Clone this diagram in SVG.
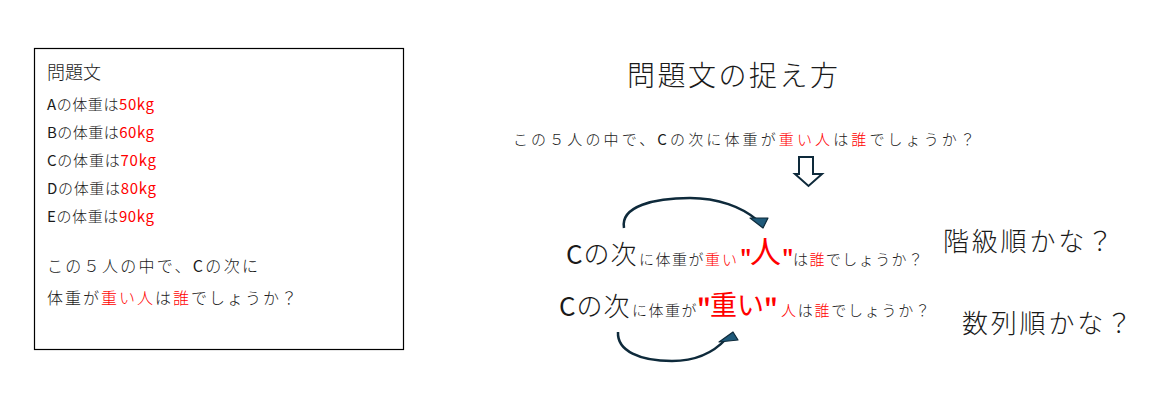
<svg xmlns="http://www.w3.org/2000/svg" width="1152" height="402" viewBox="0 0 1152 402">
<style>
text{font-family:"Noto Sans CJK JP","Noto Sans",sans-serif;font-weight:300;fill:#1a1a1a}
.r{fill:#ff0000}
.n{font-weight:400}
.s15{font-size:15px}
.q{font-weight:bold;fill:#ff0000}
.curve{fill:none;stroke:#0e2a3b;stroke-width:2.5}
.head{fill:#1f5a7a;stroke:#0e2a3b;stroke-width:1.2;stroke-linejoin:round}
</style>
<rect width="1152" height="402" fill="#fff"/>
<g id="problem-box">
<rect x="34.5" y="48.5" width="369" height="301" fill="#fff" stroke="#000" stroke-width="1.2"/>
<text x="47" y="79" font-size="18">問題文</text>
<text x="47" y="110" class="s15" textLength="107" lengthAdjust="spacing"><tspan class="n">A</tspan>の体重は<tspan class="r n">50kg</tspan></text>
<text x="47" y="138" class="s15" textLength="107" lengthAdjust="spacing"><tspan class="n">B</tspan>の体重は<tspan class="r n">60kg</tspan></text>
<text x="47" y="166" class="s15" textLength="109" lengthAdjust="spacing"><tspan class="n">C</tspan>の体重は<tspan class="r n">70kg</tspan></text>
<text x="47" y="194" class="s15" textLength="109" lengthAdjust="spacing"><tspan class="n">D</tspan>の体重は<tspan class="r n">80kg</tspan></text>
<text x="47" y="222" class="s15" textLength="107" lengthAdjust="spacing"><tspan class="n">E</tspan>の体重は<tspan class="r n">90kg</tspan></text>
<text x="47" y="272" font-size="16" textLength="211" lengthAdjust="spacing">この５人の中で、<tspan class="n">C</tspan>の次に</text>
<text x="47" y="304" font-size="16" textLength="250" lengthAdjust="spacing">体重が<tspan class="r">重い人</tspan>は<tspan class="r">誰</tspan>でしょうか？</text>
</g>
<g id="title">
<text x="627" y="86" font-size="28" textLength="211" lengthAdjust="spacing">問題文の捉え方</text>
</g>
<g id="sentence">
<text x="513" y="145" class="s15" textLength="462" lengthAdjust="spacing">この５人の中で、<tspan class="n">C</tspan>の次に体重が<tspan class="r">重い人</tspan>は<tspan class="r">誰</tspan>でしょうか？</text>
</g>
<g id="line-upper">
<text x="566" y="264" font-size="26" letter-spacing="1"><tspan class="n">C</tspan>の次</text>
<text x="639" y="265" class="s15" letter-spacing="1.5">に体重が</text>
<text x="705" y="265" class="s15 r" letter-spacing="2">重い</text>
<text x="740" y="265" font-size="20" class="q">"</text>
<text x="750" y="263" font-size="31" class="r n">人</text>
<text x="782" y="265" font-size="20" class="q">"</text>
<text x="793" y="265" class="s15" textLength="130" lengthAdjust="spacing">は<tspan class="r">誰</tspan>でしょうか？</text>
</g>
<g id="line-lower">
<text x="559" y="316" font-size="26" letter-spacing="1"><tspan class="n">C</tspan>の次</text>
<text x="632" y="316" class="s15" letter-spacing="1.5">に体重が</text>
<text x="697" y="316" font-size="24" class="q">"</text>
<text x="710" y="315" font-size="27" class="r n">重い</text>
<text x="764" y="316" font-size="24" class="q">"</text>
<text x="781" y="316" class="s15" textLength="149" lengthAdjust="spacing"><tspan class="r">人</tspan>は<tspan class="r">誰</tspan>でしょうか？</text>
</g>
<g id="label-kaikyu">
<text x="943" y="251" font-size="26" textLength="170" lengthAdjust="spacing">階級順かな？</text>
</g>
<g id="label-suretsu">
<text x="962" y="333" font-size="26" textLength="170" lengthAdjust="spacing">数列順かな？</text>
</g>
<g id="connectors">
<polygon points="799,157 813,157 813,174 822,174 808.5,186 795,174 799,174" fill="#fff" stroke="#0e2a3b" stroke-width="2" stroke-linejoin="miter"/>
<path class="curve" d="M624,228 C620,206 655,198 690,198 C718,198 742,207 757,220"/>
<polygon class="head" points="750,218 768,218 763,228"/>
<path class="curve" d="M618,332 C617,351 640,361 672,361 C698,361 714,352 726,339"/>
<polygon class="head" points="719,342 738,340 733,332"/>
</g>
</svg>
